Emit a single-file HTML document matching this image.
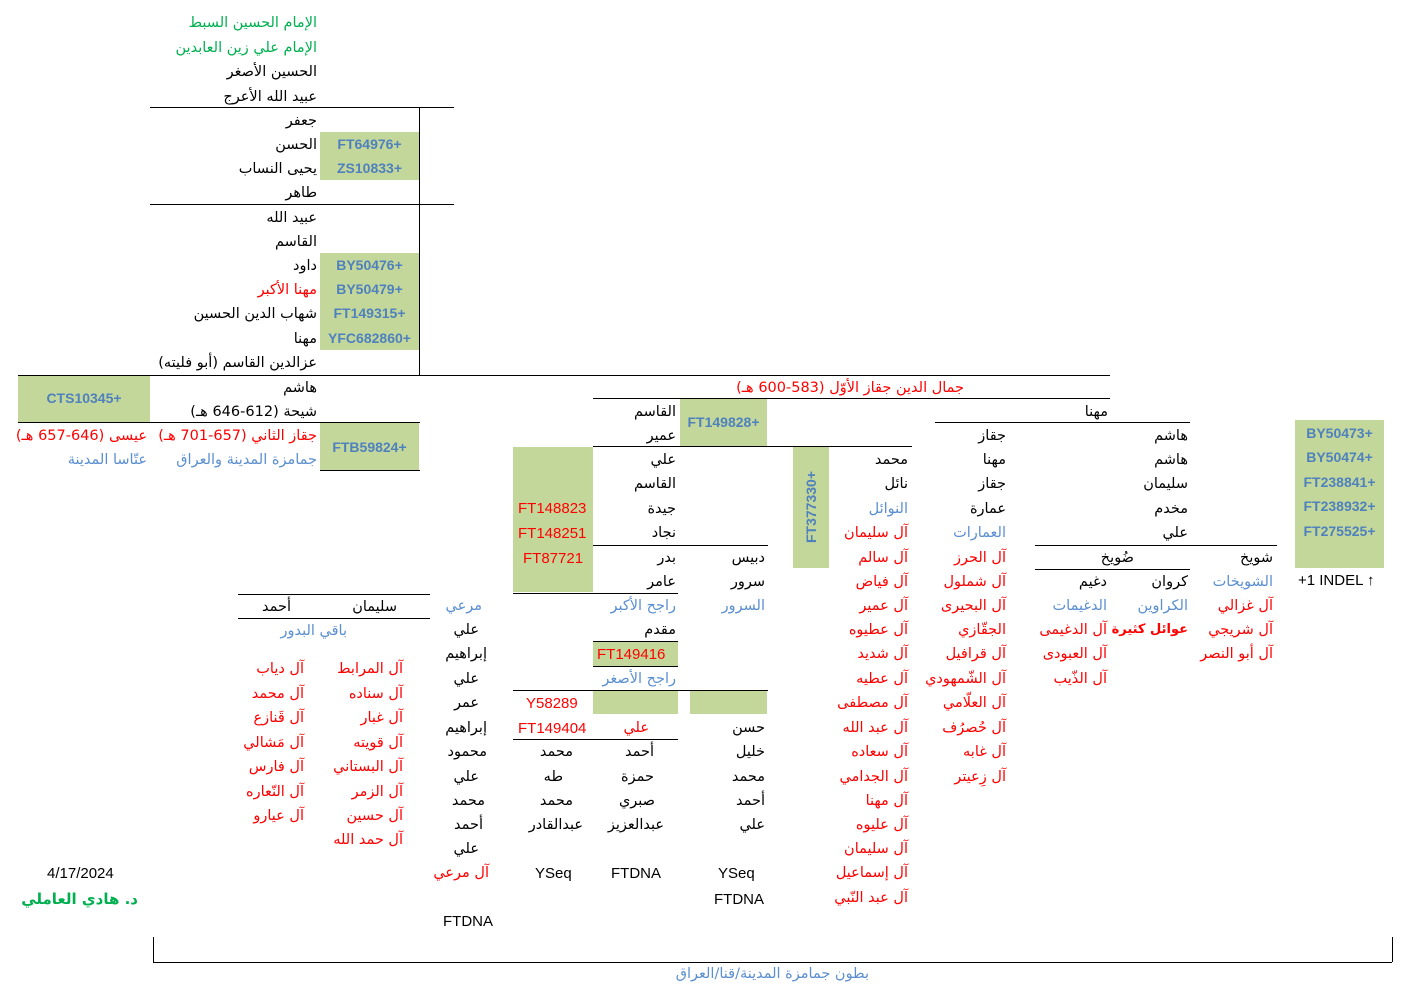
<!DOCTYPE html>
<html><head><meta charset="utf-8"><style>
body{margin:0;width:1407px;height:1004px;background:#fff;position:relative;overflow:hidden;font-family:"DejaVu Sans","Liberation Sans",sans-serif;}
.r{position:absolute;white-space:nowrap;direction:rtl;font-size:14.5px;line-height:20px;color:#000;margin-top:1px}
.l{position:absolute;white-space:nowrap;font-size:15px;line-height:20px;font-family:"Liberation Sans",sans-serif;color:#000;margin-top:1px}
.red{color:#ff0000}.blu{color:#5b8fd0}.grn{color:#00b050}
.g{position:absolute;background:#c4d79b}
.gt{position:absolute;font:bold 14px "Liberation Sans",sans-serif;color:#4f81bd;text-align:center;line-height:24px}
.h{position:absolute;height:0;border-top:1px solid #000}
.v{position:absolute;width:0;border-left:1px solid #000}
</style></head><body>
<div class="h" style="left:150px;top:107px;width:304px"></div>
<div class="h" style="left:150px;top:204px;width:304px"></div>
<div class="v" style="left:419px;top:107px;height:268px"></div>
<div class="h" style="left:18px;top:375px;width:1092px"></div>
<div class="h" style="left:18px;top:422px;width:402px"></div>
<div class="h" style="left:320px;top:470px;width:100px"></div>
<div class="h" style="left:593px;top:398px;width:517px"></div>
<div class="h" style="left:593px;top:446px;width:319px"></div>
<div class="h" style="left:935px;top:422px;width:255px"></div>
<div class="h" style="left:593px;top:545px;width:175px"></div>
<div class="h" style="left:1035px;top:545px;width:242px"></div>
<div class="h" style="left:1035px;top:569px;width:155px"></div>
<div class="h" style="left:238px;top:594px;width:192px"></div>
<div class="h" style="left:238px;top:618px;width:192px"></div>
<div class="h" style="left:513px;top:593px;width:165px"></div>
<div class="h" style="left:593px;top:641px;width:85px"></div>
<div class="h" style="left:593px;top:666px;width:85px"></div>
<div class="h" style="left:513px;top:690px;width:255px"></div>
<div class="h" style="left:513px;top:739px;width:165px"></div>
<div class="v" style="left:153px;top:937px;height:25px"></div>
<div class="v" style="left:1392px;top:937px;height:25px"></div>
<div class="h" style="left:153px;top:962px;width:1239px"></div>

<div class="g" style="left:320px;top:132px;width:99px;height:48px"></div>
<div class="gt" style="left:320px;top:132px;width:99px">FT64976+</div>
<div class="gt" style="left:320px;top:156px;width:99px">ZS10833+</div>
<div class="g" style="left:320px;top:253px;width:99px;height:97px"></div>
<div class="gt" style="left:320px;top:253px;width:99px">BY50476+</div>
<div class="gt" style="left:320px;top:277px;width:99px">BY50479+</div>
<div class="gt" style="left:320px;top:301px;width:99px">FT149315+</div>
<div class="gt" style="left:320px;top:326px;width:99px">YFC682860+</div>
<div class="g" style="left:18px;top:376px;width:132px;height:46px"></div>
<div class="gt" style="left:18px;top:386px;width:132px">CTS10345+</div>
<div class="g" style="left:320px;top:423px;width:99px;height:47px"></div>
<div class="gt" style="left:320px;top:435px;width:99px">FTB59824+</div>
<div class="g" style="left:680px;top:399px;width:87px;height:47px"></div>
<div class="gt" style="left:680px;top:410px;width:87px">FT149828+</div>
<div class="g" style="left:793px;top:447px;width:36px;height:121px"></div>
<div class="gt" style="left:751px;top:495px;width:120px;transform:rotate(-90deg)">FT377330+</div>
<div class="g" style="left:513px;top:447px;width:80px;height:145px"></div>
<div class="l red" style="left:518px;top:498px">FT148823</div>
<div class="l red" style="left:518px;top:523px">FT148251</div>
<div class="l red" style="left:523px;top:548px">FT87721</div>
<div class="g" style="left:593px;top:642px;width:85px;height:24px"></div>
<div class="l red" style="left:597px;top:644px">FT149416</div>
<div class="g" style="left:593px;top:691px;width:85px;height:23px"></div>
<div class="g" style="left:690px;top:691px;width:77px;height:23px"></div>
<div class="l red" style="left:526px;top:693px">Y58289</div>
<div class="l red" style="left:518px;top:718px">FT149404</div>
<div class="g" style="left:1295px;top:420px;width:89px;height:148px"></div>
<div class="gt" style="left:1295px;top:421px;width:89px">BY50473+</div>
<div class="gt" style="left:1295px;top:445px;width:89px">BY50474+</div>
<div class="gt" style="left:1295px;top:470px;width:89px">FT238841+</div>
<div class="gt" style="left:1295px;top:494px;width:89px">FT238932+</div>
<div class="gt" style="left:1295px;top:519px;width:89px">FT275525+</div>
<div class="l" style="left:1298px;top:570px">+1 INDEL ↑</div>

<div class="r grn" style="right:1090px;top:12px">الإمام الحسين السبط</div>
<div class="r grn" style="right:1090px;top:37px">الإمام علي زين العابدين</div>
<div class="r" style="right:1090px;top:61px">الحسين الأصغر</div>
<div class="r" style="right:1090px;top:86px">عبيد الله الأعرج</div>
<div class="r" style="right:1090px;top:110px">جعفر</div>
<div class="r" style="right:1090px;top:134px">الحسن</div>
<div class="r" style="right:1090px;top:158px">يحيى النساب</div>
<div class="r" style="right:1090px;top:182px">طاهر</div>
<div class="r" style="right:1090px;top:207px">عبيد الله</div>
<div class="r" style="right:1090px;top:231px">القاسم</div>
<div class="r" style="right:1090px;top:255px">داود</div>
<div class="r red" style="right:1090px;top:279px">مهنا الأكبر</div>
<div class="r" style="right:1090px;top:303px">شهاب الدين الحسين</div>
<div class="r" style="right:1090px;top:328px">مهنا</div>
<div class="r" style="right:1090px;top:352px">عزالدين القاسم (أبو فليته)</div>
<div class="r" style="right:1090px;top:377px">هاشم</div>
<div class="r" style="right:1090px;top:401px">شيحة (612-646 هـ)</div>
<div class="r red" style="right:1090px;top:425px">جقاز الثاني (657-701 هـ)</div>
<div class="r blu" style="right:1090px;top:449px">جمامزة المدينة والعراق</div>
<div class="r red" style="right:1260px;top:425px">عيسى (646-657 هـ)</div>
<div class="r blu" style="right:1260px;top:449px">عتّاسا المدينة</div>

<div class="r red" style="right:443px;top:377px">جمال الدين جقاز الأوّل (583-600 هـ)</div>
<div class="r" style="right:731px;top:401px">القاسم</div>
<div class="r" style="right:731px;top:425px">عمير</div>
<div class="r" style="right:299px;top:401px">مهنا</div>

<div class="r" style="right:731px;top:449px">علي</div>
<div class="r" style="right:731px;top:473px">القاسم</div>
<div class="r" style="right:731px;top:498px">جيدة</div>
<div class="r" style="right:731px;top:522px">نجاد</div>
<div class="r" style="right:731px;top:547px">بدر</div>
<div class="r" style="right:731px;top:571px">عامر</div>
<div class="r blu" style="right:731px;top:595px">راجح الأكبر</div>
<div class="r" style="right:731px;top:619px">مقدم</div>
<div class="r blu" style="right:731px;top:668px">راجح الأصغر</div>
<div class="r red" style="right:758px;top:717px">علي</div>
<div class="r" style="right:753px;top:741px">أحمد</div>
<div class="r" style="right:753px;top:766px">حمزة</div>
<div class="r" style="right:752px;top:790px">صبري</div>
<div class="r" style="right:743px;top:814px">عبدالعزيز</div>
<div class="l" style="left:611px;top:863px">FTDNA</div>
<div class="r" style="right:834px;top:741px">محمد</div>
<div class="r" style="right:844px;top:766px">طه</div>
<div class="r" style="right:834px;top:790px">محمد</div>
<div class="r" style="right:824px;top:814px">عبدالقادر</div>
<div class="l" style="left:535px;top:863px">YSeq</div>
<div class="r" style="right:642px;top:547px">دبيس</div>
<div class="r" style="right:642px;top:571px">سرور</div>
<div class="r blu" style="right:642px;top:595px">السرور</div>
<div class="r" style="right:642px;top:717px">حسن</div>
<div class="r" style="right:642px;top:741px">خليل</div>
<div class="r" style="right:642px;top:766px">محمد</div>
<div class="r" style="right:642px;top:790px">أحمد</div>
<div class="r" style="right:642px;top:814px">علي</div>
<div class="l" style="left:718px;top:863px">YSeq</div>
<div class="l" style="left:714px;top:889px">FTDNA</div>

<div class="r blu" style="right:925px;top:595px">مرعي</div>
<div class="r" style="right:928px;top:619px">علي</div>
<div class="r" style="right:920px;top:643px">إبراهيم</div>
<div class="r" style="right:928px;top:668px">علي</div>
<div class="r" style="right:928px;top:692px">عمر</div>
<div class="r" style="right:920px;top:717px">إبراهيم</div>
<div class="r" style="right:920px;top:741px">محمود</div>
<div class="r" style="right:928px;top:766px">علي</div>
<div class="r" style="right:922px;top:790px">محمد</div>
<div class="r" style="right:924px;top:814px">أحمد</div>
<div class="r" style="right:928px;top:838px">علي</div>
<div class="r red" style="right:918px;top:862px">آل مرعي</div>
<div class="l" style="left:443px;top:911px">FTDNA</div>

<div class="r" style="right:1010px;top:596px">سليمان</div>
<div class="r" style="right:1116px;top:596px">أحمد</div>
<div class="r blu" style="right:1060px;top:620px">باقي البدور</div>
<div class="r red" style="right:1004px;top:658px">آل المرابط</div>
<div class="r red" style="right:1004px;top:683px">آل سناده</div>
<div class="r red" style="right:1004px;top:707px">آل غبار</div>
<div class="r red" style="right:1004px;top:732px">آل قويته</div>
<div class="r red" style="right:1004px;top:756px">آل البستاني</div>
<div class="r red" style="right:1004px;top:781px">آل الزمر</div>
<div class="r red" style="right:1004px;top:805px">آل حسين</div>
<div class="r red" style="right:1004px;top:829px">آل حمد الله</div>
<div class="r red" style="right:1103px;top:658px">آل دياب</div>
<div class="r red" style="right:1103px;top:683px">آل محمد</div>
<div class="r red" style="right:1103px;top:707px">آل قَنازع</div>
<div class="r red" style="right:1103px;top:732px">آل مَشالي</div>
<div class="r red" style="right:1103px;top:756px">آل فارس</div>
<div class="r red" style="right:1103px;top:781px">آل النّعاره</div>
<div class="r red" style="right:1103px;top:805px">آل عيارو</div>
<div class="l" style="left:47px;top:863px">4/17/2024</div>
<div class="r grn" style="right:1269px;top:888px;font-weight:bold;font-size:15px">د. هادي العاملي</div>

<div class="r" style="right:499px;top:449px">محمد</div>
<div class="r" style="right:499px;top:473px">نائل</div>
<div class="r blu" style="right:499px;top:498px">النوائل</div>
<div class="r red" style="right:499px;top:522px">آل سليمان</div>
<div class="r red" style="right:499px;top:547px">آل سالم</div>
<div class="r red" style="right:499px;top:571px">آل فياض</div>
<div class="r red" style="right:499px;top:595px">آل عمير</div>
<div class="r red" style="right:499px;top:619px">آل عطيوه</div>
<div class="r red" style="right:499px;top:643px">آل شديد</div>
<div class="r red" style="right:499px;top:668px">آل عطيه</div>
<div class="r red" style="right:499px;top:692px">آل مصطفى</div>
<div class="r red" style="right:499px;top:717px">آل عبد الله</div>
<div class="r red" style="right:499px;top:741px">آل سعاده</div>
<div class="r red" style="right:499px;top:766px">آل الجدامي</div>
<div class="r red" style="right:499px;top:790px">آل مهنا</div>
<div class="r red" style="right:499px;top:814px">آل عليوه</div>
<div class="r red" style="right:499px;top:838px">آل سليمان</div>
<div class="r red" style="right:499px;top:862px">آل إسماعيل</div>
<div class="r red" style="right:499px;top:887px">آل عبد النّبي</div>

<div class="r" style="right:401px;top:425px">جقاز</div>
<div class="r" style="right:401px;top:449px">مهنا</div>
<div class="r" style="right:401px;top:473px">جقاز</div>
<div class="r" style="right:401px;top:498px">عمارة</div>
<div class="r blu" style="right:401px;top:522px">العمارات</div>
<div class="r red" style="right:401px;top:547px">آل الحرز</div>
<div class="r red" style="right:401px;top:571px">آل شملول</div>
<div class="r red" style="right:401px;top:595px">آل البحيرى</div>
<div class="r red" style="right:401px;top:619px">الجقّازي</div>
<div class="r red" style="right:401px;top:643px">آل قرافيل</div>
<div class="r red" style="right:401px;top:668px">آل الشّمهودي</div>
<div class="r red" style="right:401px;top:692px">آل العلّامي</div>
<div class="r red" style="right:401px;top:717px">آل حُصرُف</div>
<div class="r red" style="right:401px;top:741px">آل غابه</div>
<div class="r red" style="right:401px;top:766px">آل زِعيتر</div>

<div class="r" style="right:219px;top:425px">هاشم</div>
<div class="r" style="right:219px;top:449px">هاشم</div>
<div class="r" style="right:219px;top:473px">سليمان</div>
<div class="r" style="right:219px;top:498px">مخدم</div>
<div class="r" style="right:219px;top:522px">علي</div>
<div class="r" style="right:273px;top:547px">ضُويخ</div>
<div class="r" style="right:219px;top:571px">كروان</div>
<div class="r blu" style="right:219px;top:595px">الكراوين</div>
<div class="r red" style="right:219px;top:619px;font-weight:bold;font-size:13px">عوائل كثيرة</div>
<div class="r" style="right:300px;top:571px">دغيم</div>
<div class="r blu" style="right:300px;top:595px">الدغيمات</div>
<div class="r red" style="right:300px;top:619px">آل الدغيمى</div>
<div class="r red" style="right:300px;top:643px">آل العبودى</div>
<div class="r red" style="right:300px;top:668px">آل الذّيب</div>
<div class="r" style="right:134px;top:547px">شويخ</div>
<div class="r blu" style="right:134px;top:571px">الشويخات</div>
<div class="r red" style="right:134px;top:595px">آل غزالي</div>
<div class="r red" style="right:134px;top:619px">آل شريجي</div>
<div class="r red" style="right:134px;top:643px">آل أبو النصر</div>

<div class="r blu" style="right:538px;top:963px">بطون جمامزة المدينة/قنا/العراق</div>
</body></html>
